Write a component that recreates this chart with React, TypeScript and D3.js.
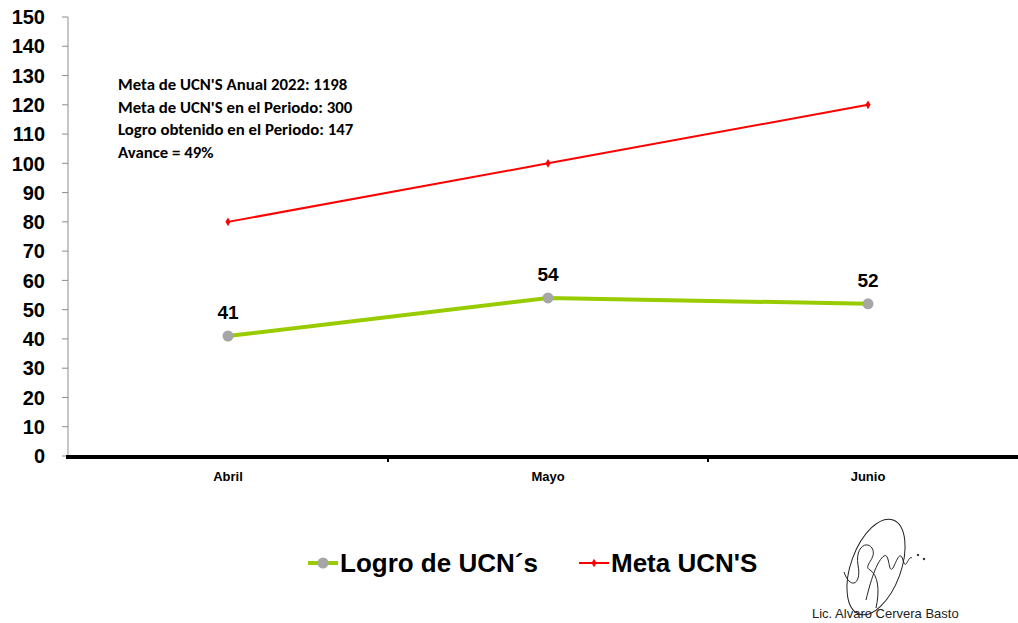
import React from "react";
import * as d3 from "d3";

const categories = ["Abril", "Mayo", "Junio"];
const logro = [41, 54, 52];
const meta = [80, 100, 120];
const yTicks = [0, 10, 20, 30, 40, 50, 60, 70, 80, 90, 100, 110, 120, 130, 140, 150];
const notes = [
  "Meta de UCN'S Anual 2022: 1198",
  "Meta de UCN'S en el Periodo: 300",
  "Logro obtenido en el Periodo: 147",
  "Avance = 49%",
];
const legendLabels = ["Logro de UCN´s", "Meta UCN'S"];
const signatureName = "Lic. Alvaro Cervera Basto";

export default function App() {
  const W = 1018, H = 623;
  const x = d3.scaleBand<string>().domain(categories).range([68, 1028]);
  const y = d3.scaleLinear().domain([0, 150]).range([456, 17]);
  const cx = (c: string) => (x(c) as number) + x.bandwidth() / 2;
  const line = d3.line<number>().x((_, i) => cx(categories[i])).y((d) => y(d));
  const arial = "Arial, 'Liberation Sans', sans-serif";
  const calibri = "Carlito, Lato, 'Open Sans', sans-serif";
  return (
    <svg width={W} height={H} style={{ position: "absolute", left: 0, top: 0, background: "#fff" }}>
      <rect width={W} height={H} fill="#fff" />
      {/* y axis */}
      <line x1={68} x2={68} y1={17} y2={456} stroke="#8c8c8c" strokeWidth={1} />
      {yTicks.map((t) => (
        <g key={t}>
          <line x1={62} x2={68} y1={y(t)} y2={y(t)} stroke="#8c8c8c" strokeWidth={1} />
          <text x={45} y={y(t)} dy="0.36em" textAnchor="end" fontFamily={arial} fontWeight="bold" fontSize={20} fill="#000">{t}</text>
        </g>
      ))}
      {/* x axis */}
      {x.domain().slice(1).map((c) => (
        <line key={c} x1={x(c)} x2={x(c)} y1={456} y2={462} stroke="#000" strokeWidth={2} />
      ))}
      <line x1={66} x2={1018} y1={457} y2={457} stroke="#000" strokeWidth={4} />
      {categories.map((c) => (
        <text key={c} x={cx(c)} y={481} textAnchor="middle" fontFamily={arial} fontWeight="bold" fontSize={13} fill="#000">{c}</text>
      ))}
      {/* meta line */}
      <path d={line(meta) || ""} fill="none" stroke="#ff0000" strokeWidth={2} />
      {meta.map((v, i) => (
        <path key={i} d={d3.symbol(d3.symbolDiamond, 22)() || ""} transform={`translate(${cx(categories[i])},${y(v)})`} fill="#ff0000" />
      ))}
      {/* logro line */}
      <path d={line(logro) || ""} fill="none" stroke="#99cc00" strokeWidth={4} />
      {logro.map((v, i) => (
        <g key={i}>
          <circle cx={cx(categories[i])} cy={y(v)} r={5.5} fill="#a6a6a6" />
          <text x={cx(categories[i])} y={y(v) - 17} textAnchor="middle" fontFamily={arial} fontWeight="bold" fontSize={19} fill="#000">{v}</text>
        </g>
      ))}
      {/* notes */}
      {notes.map((n, i) => (
        <text key={i} x={118} y={90 + i * 22.5} fontFamily={calibri} fontWeight={600} fontSize={16.8} fill="#000">{n}</text>
      ))}
      {/* legend */}
      <line x1={308} x2={338} y1={563} y2={563} stroke="#99cc00" strokeWidth={4} />
      <circle cx={323} cy={563} r={5.5} fill="#a6a6a6" />
      <text x={340} y={572} fontFamily={arial} fontWeight="bold" fontSize={26} fill="#000">{legendLabels[0]}</text>
      <line x1={579} x2={609} y1={563} y2={563} stroke="#ff0000" strokeWidth={2} />
      <path d={d3.symbol(d3.symbolDiamond, 22)() || ""} transform="translate(594,563)" fill="#ff0000" />
      <text x={611} y={572} fontFamily={arial} fontWeight="bold" fontSize={26} fill="#000">{legendLabels[1]}</text>
      {/* signature */}
      <g fill="none" stroke="#222" strokeWidth={1}>
        <ellipse cx={876} cy={567} rx={25} ry={50} transform="rotate(20,876,567)" />
        <path d="M844,572 C850,590 862,585 858,565 C855,548 866,540 872,548 C878,558 862,566 870,570 C878,575 880,590 876,608 M866,600 C872,575 878,560 884,556 C890,552 888,575 893,568 C897,560 900,550 903,560 C906,572 908,555 912,558" />
        <circle cx={918} cy={555} r={0.8} fill="#222" />
        <circle cx={924} cy={559} r={0.8} fill="#222" />
      </g>
      <text x={812} y={618} fontFamily={arial} fontSize={13} fill="#222">{signatureName}</text>
    </svg>
  );
}
